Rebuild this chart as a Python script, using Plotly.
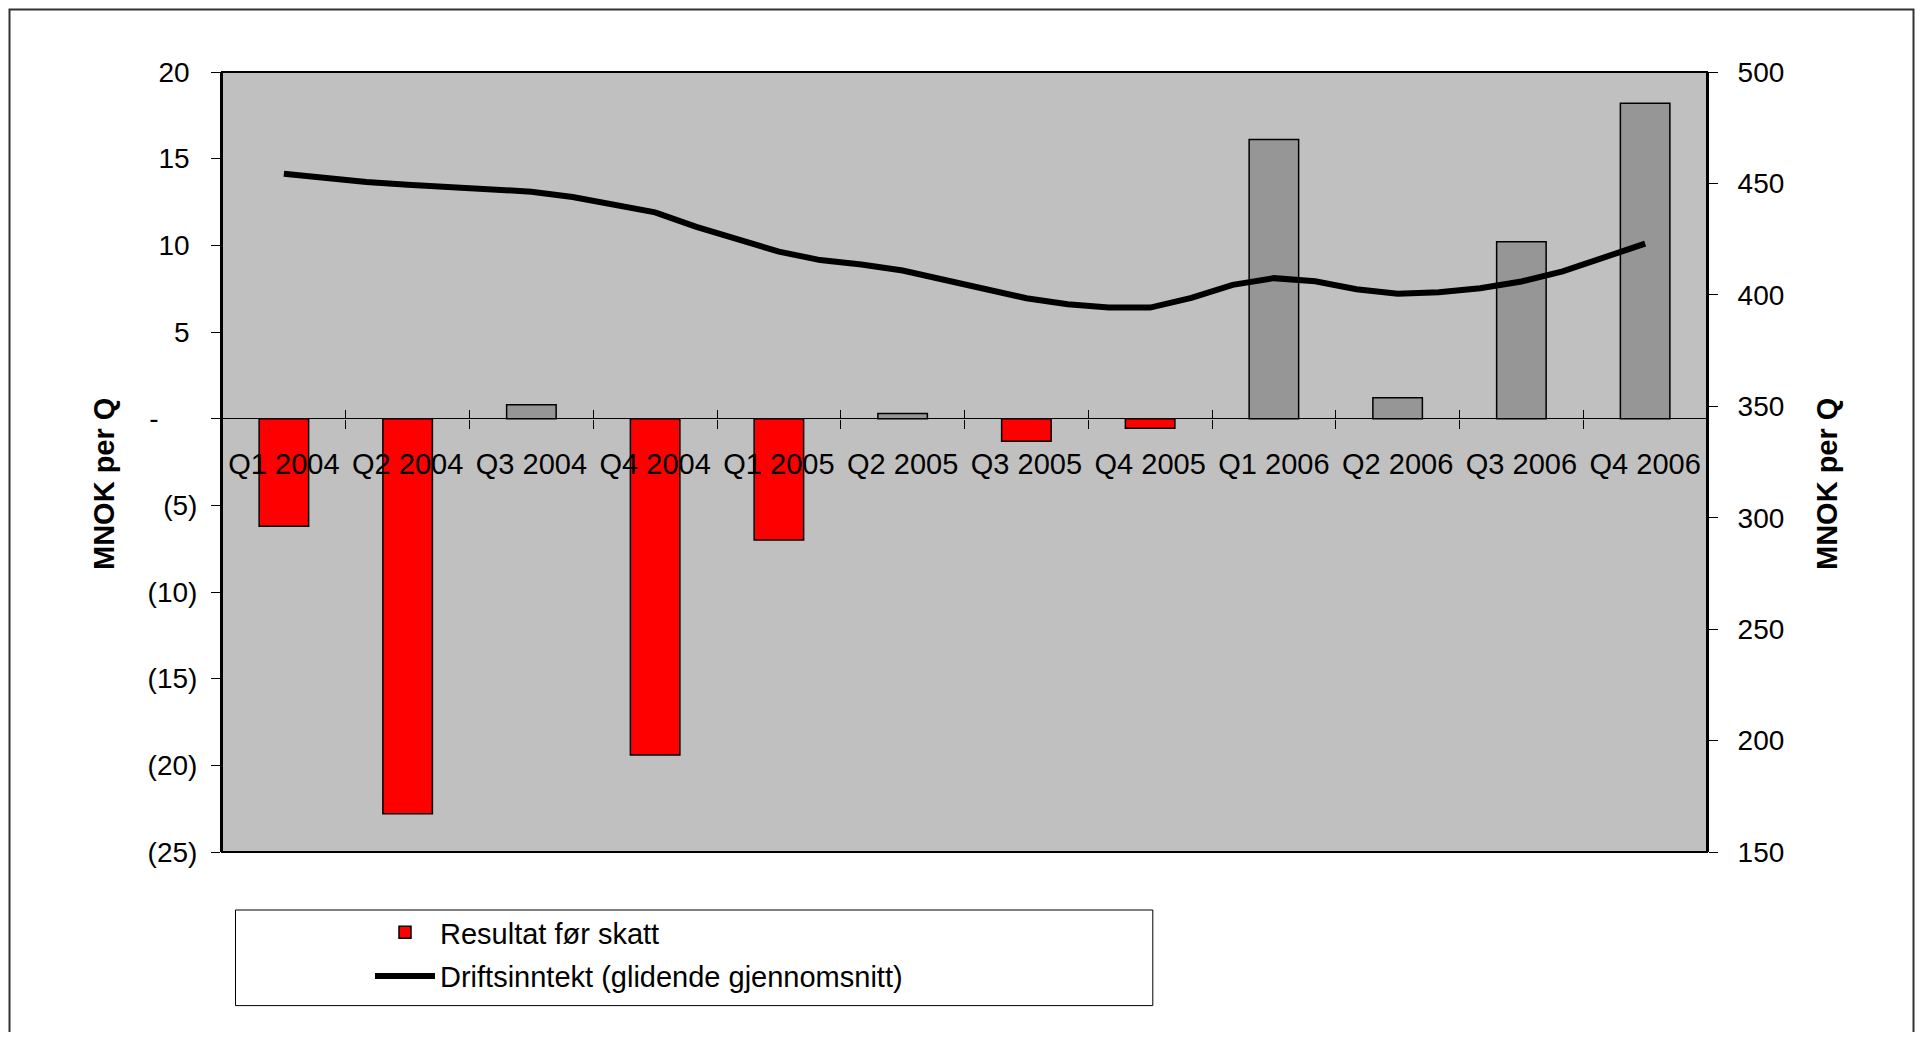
import plotly.graph_objects as go

# ---------------- data ----------------
quarters = ["Q1 2004", "Q2 2004", "Q3 2004", "Q4 2004",
            "Q1 2005", "Q2 2005", "Q3 2005", "Q4 2005",
            "Q1 2006", "Q2 2006", "Q3 2006", "Q4 2006"]
resultat = [-6.2, -22.8, 0.8, -19.4, -7.0, 0.3, -1.3, -0.55, 16.1, 1.2, 10.2, 18.2]

# monthly moving average of operating income (one point per month, Q1 2004 .. Q4 2006)
month_index = list(range(34))
driftsinntekt = [454.3, 452.3, 450.6, 449.4, 448.5, 447.5, 446.3, 443.9, 440.7, 437.0,
                 430.5, 424.8, 419.4, 415.6, 413.6, 410.9, 406.9, 402.8, 398.5, 395.8,
                 394.3, 394.3, 398.6, 404.5, 407.5, 406.1, 402.5, 400.5, 401.2, 403.0,
                 406.0, 410.5, 416.8, 423.0]

left_tickvals = [-25, -20, -15, -10, -5, 0, 5, 10, 15, 20]
left_ticktext = ["(25)", "(20)", "(15)", "(10)", "(5)", "-", "5", "10", "15", "20"]
right_tickvals = [150, 200, 250, 300, 350, 400, 450, 500]

name_bar = "Resultat før skatt"
name_line = "Driftsinntekt (glidende gjennomsnitt)"
axis_title = "<b>MNOK per Q</b>"

# ---------------- styles ----------------
FONT = "Liberation Sans, Arial, sans-serif"
bar_colors = ["#FF0000" if v < 0 else "#969696" for v in resultat]
line_x = [m / 3 for m in month_index]


# accounting-style padding: positives leave room for ")", zero dash sits further left
def pad_label(t):
    if t.startswith("("):
        return t
    if t == "-":
        return t + "\u2007\u2007\u00a0"
    return t + "\u00a0"


left_ticktext_padded = [pad_label(t) for t in left_ticktext]

OFF = 8  # page body margin
W, H = 1923 - 2 * OFF, 1040 - 2 * OFF
# desired plot area in page pixels: left 222, right 1707, top 72, bottom 852
ML = 222 - OFF
MT = 72 - OFF
MR = W - (1707 - OFF)
MB = H - (852 - OFF)
PW = W - ML - MR
PH = H - MT - MB
zero_pos = 25 / 45  # paper fraction of y=0 on left axis


def px_to_paper_x(px):  # page px -> paper
    return (px - OFF - ML) / PW


def px_to_paper_y(py):
    return (H - MB - (py - OFF)) / PH


fig = go.Figure()
fig.add_trace(go.Bar(
    x=quarters, y=resultat, name=name_bar,
    marker=dict(color=bar_colors, line=dict(color="black", width=1.5)),
    xaxis="x", yaxis="y", legendgroup="a",
))
fig.add_trace(go.Scatter(
    x=line_x, y=driftsinntekt, name=name_line, mode="lines",
    line=dict(color="black", width=6),
    xaxis="x2", yaxis="y2", legendgroup="b",
))

tickfont = dict(family=FONT, size=28, color="black")
xtickfont = dict(family=FONT, size=29, color="black")

fig.update_layout(
    width=W, height=H,
    margin=dict(l=ML, r=MR, t=MT, b=MB, autoexpand=False),
    paper_bgcolor="white",
    plot_bgcolor="#C0C0C0",
    font=dict(family=FONT, color="black"),
    bargap=0.6,
    showlegend=True,
    legend=dict(
        x=px_to_paper_x(370), y=px_to_paper_y(907), xanchor="left", yanchor="top",
        bgcolor="rgba(0,0,0,0)", borderwidth=0,
        font=dict(family=FONT, size=29, color="black"),
        traceorder="grouped", tracegroupgap=3, itemwidth=60,
    ),
    xaxis=dict(
        type="category", range=[-0.5, 11.5],
        anchor="free", position=zero_pos,
        showline=False, showgrid=False, zeroline=False,
        ticks="outside", tickson="boundaries", ticklen=9, tickwidth=1, tickcolor="black",
        tickfont=xtickfont, ticklabelstandoff=25,
    ),
    xaxis2=dict(
        type="linear", range=[-0.5, 11.5], overlaying="x",
        anchor="free", position=zero_pos,
        showline=False, showgrid=False, zeroline=False,
        tickmode="array", tickvals=[i + 0.5 for i in range(11)],
        ticks="inside", ticklen=9, tickwidth=1, tickcolor="black",
        showticklabels=False,
    ),
    yaxis=dict(
        range=[-25, 20], tickmode="array", tickvals=left_tickvals, ticktext=left_ticktext_padded,
        showgrid=False, zeroline=True, zerolinecolor="black", zerolinewidth=1,
        showline=True, linecolor="black", linewidth=2,
        ticks="outside", ticklen=9, tickcolor="black", tickwidth=1,
        tickfont=tickfont, ticklabelstandoff=8,
    ),
    yaxis2=dict(
        range=[150, 500], overlaying="y", side="right",
        tickmode="array", tickvals=right_tickvals,
        showgrid=False, zeroline=False,
        showline=True, linecolor="black", linewidth=2,
        ticks="outside", ticklen=9, tickcolor="black", tickwidth=1,
        tickfont=tickfont, ticklabelstandoff=14,
    ),
    annotations=[
        dict(text=axis_title, textangle=-90, xref="paper", yref="paper",
             x=px_to_paper_x(104), y=px_to_paper_y(484), xanchor="center", yanchor="middle",
             showarrow=False, font=dict(family=FONT, size=29, color="black")),
        dict(text=axis_title, textangle=-90, xref="paper", yref="paper",
             x=px_to_paper_x(1827), y=px_to_paper_y(484), xanchor="center", yanchor="middle",
             showarrow=False, font=dict(family=FONT, size=29, color="black")),
    ],
    shapes=[
        # plot area border
        dict(type="rect", xref="paper", yref="paper", x0=0, x1=1, y0=0, y1=1,
             line=dict(color="black", width=2), layer="above"),
        # legend box
        dict(type="rect", xref="paper", yref="paper",
             x0=px_to_paper_x(235.5), x1=px_to_paper_x(1152.8),
             y0=px_to_paper_y(910), y1=px_to_paper_y(1005.6),
             line=dict(color="black", width=1)),
        # outer chart border (top/left/right; bottom runs off the canvas)
        dict(type="rect", xref="paper", yref="paper",
             x0=px_to_paper_x(9.5), x1=px_to_paper_x(OFF + W - 1.5),
             y0=px_to_paper_y(OFF + H + 200), y1=px_to_paper_y(OFF + 1.5),
             line=dict(color="#333333", width=2)),
    ],
)

fig.write_html("out.html")
